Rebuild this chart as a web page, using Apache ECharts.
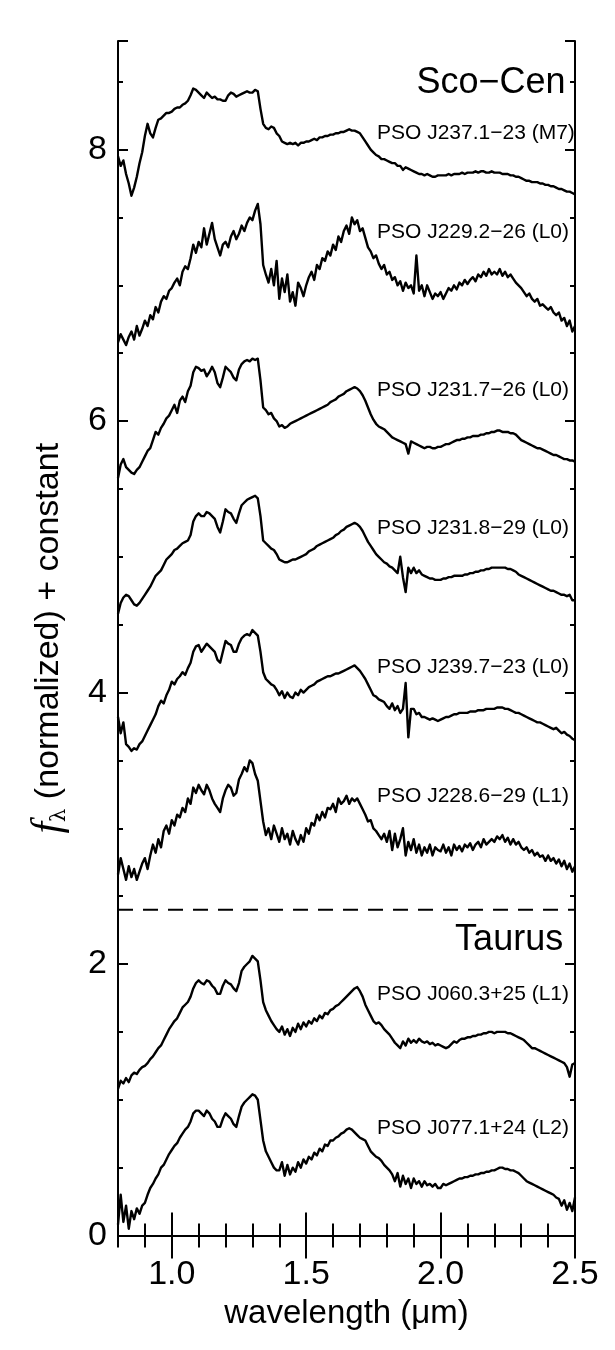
<!DOCTYPE html>
<html><head><meta charset="utf-8">
<script src="https://cdn.jsdelivr.net/npm/echarts@6/dist/echarts.min.js"></script>
<style>html,body{margin:0;padding:0;background:#fff}#c{width:615px;height:1350px}</style>
</head><body><div id="c"></div>
<script>
// wavelength grid (micron)
const wavelength = [
0.80,0.81,0.82,0.83,0.84,0.85,0.86,0.87,0.88,0.89,
0.90,0.91,0.92,0.93,0.94,0.95,0.96,0.97,0.98,0.99,
1.00,1.01,1.02,1.03,1.04,1.05,1.06,1.07,1.08,1.09,
1.10,1.11,1.12,1.13,1.14,1.15,1.16,1.17,1.18,1.19,
1.20,1.21,1.22,1.23,1.24,1.25,1.26,1.27,1.28,1.29,
1.30,1.31,1.32,1.33,1.34,1.35,1.36,1.37,1.38,1.39,
1.40,1.41,1.42,1.43,1.44,1.45,1.46,1.47,1.48,1.49,
1.50,1.51,1.52,1.53,1.54,1.55,1.56,1.57,1.58,1.59,
1.60,1.61,1.62,1.63,1.64,1.65,1.66,1.67,1.68,1.69,
1.70,1.71,1.72,1.73,1.74,1.75,1.76,1.77,1.78,1.79,
1.80,1.81,1.82,1.83,1.84,1.85,1.86,1.87,1.88,1.89,
1.90,1.91,1.92,1.93,1.94,1.95,1.96,1.97,1.98,1.99,
2.00,2.01,2.02,2.03,2.04,2.05,2.06,2.07,2.08,2.09,
2.10,2.11,2.12,2.13,2.14,2.15,2.16,2.17,2.18,2.19,
2.20,2.21,2.22,2.23,2.24,2.25,2.26,2.27,2.28,2.29,
2.30,2.31,2.32,2.33,2.34,2.35,2.36,2.37,2.38,2.39,
2.40,2.41,2.42,2.43,2.44,2.45,2.46,2.47,2.48,2.49,
2.50];

// f_lambda (normalized) + constant
const fluxJ237 = [
7.95,7.88,7.92,7.82,7.75,7.66,7.72,7.80,7.90,7.98,
8.10,8.19,8.12,8.09,8.16,8.22,8.23,8.25,8.27,8.27,
8.28,8.30,8.31,8.31,8.33,8.34,8.36,8.40,8.45,8.44,
8.42,8.40,8.38,8.42,8.40,8.38,8.39,8.37,8.37,8.36,
8.36,8.40,8.42,8.41,8.39,8.40,8.41,8.42,8.43,8.42,
8.42,8.44,8.43,8.30,8.19,8.16,8.15,8.17,8.16,8.12,
8.10,8.06,8.05,8.04,8.05,8.04,8.05,8.03,8.05,8.05,
8.06,8.06,8.07,8.08,8.07,8.09,8.09,8.10,8.10,8.11,
8.11,8.12,8.12,8.13,8.13,8.14,8.15,8.14,8.14,8.13,
8.12,8.09,8.06,8.03,8.00,7.98,7.96,7.95,7.93,7.93,
7.92,7.91,7.90,7.90,7.88,7.88,7.85,7.87,7.86,7.85,
7.84,7.83,7.82,7.82,7.81,7.82,7.81,7.80,7.80,7.81,
7.81,7.81,7.81,7.82,7.81,7.82,7.82,7.82,7.83,7.82,
7.83,7.83,7.83,7.84,7.83,7.84,7.84,7.83,7.83,7.84,
7.83,7.83,7.83,7.82,7.82,7.82,7.81,7.81,7.80,7.80,
7.79,7.78,7.77,7.77,7.76,7.76,7.76,7.75,7.75,7.74,
7.74,7.73,7.73,7.72,7.71,7.71,7.70,7.69,7.69,7.68,
7.67];
const fluxJ229 = [
6.58,6.64,6.60,6.56,6.62,6.66,6.60,6.70,6.63,6.68,
6.74,6.70,6.78,6.75,6.84,6.80,6.88,6.92,6.90,6.96,
6.98,7.02,7.05,7.00,7.10,7.14,7.12,7.20,7.30,7.24,
7.32,7.28,7.42,7.30,7.38,7.46,7.34,7.28,7.22,7.30,
7.32,7.28,7.36,7.40,7.34,7.38,7.44,7.40,7.46,7.50,
7.48,7.55,7.60,7.45,7.15,7.08,7.02,7.12,7.00,7.18,
6.90,7.05,6.95,7.08,6.88,6.95,6.85,7.02,6.98,6.92,
7.00,7.06,7.10,7.04,7.15,7.12,7.20,7.18,7.25,7.22,
7.30,7.26,7.36,7.32,7.40,7.44,7.38,7.50,7.45,7.48,
7.40,7.42,7.35,7.28,7.25,7.20,7.22,7.16,7.12,7.15,
7.08,7.10,7.04,7.06,7.00,7.03,6.96,7.02,6.98,7.00,
6.94,7.22,6.96,7.00,6.92,7.00,6.95,6.90,6.94,6.92,
6.95,6.90,6.94,6.98,6.96,7.00,6.97,7.02,7.00,7.04,
7.01,7.04,7.06,7.03,7.08,7.06,7.10,7.07,7.12,7.08,
7.10,7.08,7.12,7.07,7.10,7.06,7.08,7.05,7.02,7.00,
6.98,6.95,6.92,6.94,6.90,6.88,6.90,6.85,6.86,6.84,
6.82,6.84,6.80,6.78,6.80,6.74,6.76,6.70,6.74,6.66,
6.70];
const fluxJ231a = [
5.58,5.68,5.72,5.66,5.64,5.62,5.61,5.64,5.66,5.70,
5.74,5.78,5.80,5.86,5.92,5.90,5.95,5.98,6.02,6.04,
6.08,6.12,6.06,6.15,6.18,6.14,6.22,6.26,6.36,6.40,
6.39,6.37,6.38,6.33,6.36,6.40,6.36,6.28,6.25,6.32,
6.40,6.38,6.36,6.32,6.30,6.38,6.42,6.44,6.45,6.44,
6.46,6.45,6.46,6.30,6.10,6.08,6.05,6.06,6.02,6.00,
5.96,5.97,5.95,5.96,5.98,5.99,6.00,6.01,6.02,6.03,
6.04,6.05,6.06,6.07,6.08,6.09,6.10,6.11,6.12,6.14,
6.15,6.16,6.18,6.19,6.20,6.22,6.23,6.24,6.25,6.24,
6.22,6.19,6.15,6.10,6.05,6.01,5.98,5.96,5.95,5.94,
5.92,5.90,5.88,5.87,5.86,5.85,5.84,5.83,5.76,5.85,
5.84,5.83,5.82,5.81,5.80,5.81,5.81,5.80,5.80,5.81,
5.81,5.82,5.83,5.83,5.84,5.85,5.86,5.86,5.87,5.87,
5.88,5.88,5.89,5.89,5.89,5.90,5.90,5.91,5.91,5.92,
5.92,5.93,5.93,5.92,5.92,5.92,5.91,5.91,5.90,5.88,
5.86,5.85,5.84,5.83,5.82,5.81,5.80,5.80,5.79,5.78,
5.77,5.76,5.75,5.75,5.74,5.73,5.72,5.72,5.71,5.71,
5.70];
const fluxJ231b = [
4.58,4.66,4.70,4.72,4.71,4.68,4.65,4.64,4.66,4.69,
4.72,4.75,4.78,4.82,4.86,4.88,4.90,4.94,4.98,5.00,
5.02,5.05,5.06,5.08,5.10,5.11,5.12,5.16,5.26,5.30,
5.32,5.30,5.30,5.33,5.32,5.30,5.28,5.22,5.18,5.26,
5.35,5.33,5.32,5.28,5.25,5.32,5.38,5.40,5.42,5.43,
5.44,5.45,5.43,5.30,5.12,5.10,5.08,5.06,5.05,5.02,
4.98,4.97,4.96,4.96,4.97,4.98,4.98,4.99,5.00,5.01,
5.02,5.04,5.05,5.06,5.08,5.09,5.10,5.11,5.12,5.13,
5.14,5.16,5.17,5.19,5.20,5.22,5.23,5.24,5.25,5.24,
5.22,5.19,5.15,5.11,5.08,5.05,5.02,5.00,4.98,4.96,
4.95,4.93,4.92,4.90,4.88,5.00,4.85,4.74,4.92,4.88,
4.92,4.88,4.90,4.87,4.86,4.85,4.84,4.84,4.83,4.83,
4.83,4.84,4.84,4.85,4.85,4.86,4.86,4.86,4.86,4.87,
4.87,4.88,4.88,4.89,4.89,4.90,4.90,4.91,4.91,4.92,
4.92,4.92,4.92,4.92,4.92,4.91,4.91,4.90,4.89,4.87,
4.86,4.85,4.84,4.83,4.82,4.81,4.80,4.79,4.78,4.77,
4.76,4.75,4.75,4.74,4.73,4.72,4.72,4.71,4.72,4.68,
4.68];
const fluxJ239 = [
3.82,3.70,3.78,3.62,3.60,3.57,3.59,3.58,3.62,3.64,
3.68,3.72,3.76,3.80,3.84,3.90,3.94,3.92,3.98,4.02,
4.08,4.06,4.10,4.12,4.15,4.13,4.18,4.22,4.30,4.34,
4.35,4.30,4.33,4.36,4.34,4.32,4.30,4.24,4.22,4.30,
4.38,4.36,4.35,4.30,4.30,4.36,4.40,4.42,4.43,4.42,
4.46,4.44,4.42,4.30,4.15,4.10,4.08,4.06,4.05,4.02,
3.98,4.01,3.96,4.00,3.97,3.96,4.00,3.98,4.02,4.00,
4.02,4.04,4.05,4.06,4.08,4.09,4.10,4.11,4.12,4.12,
4.13,4.14,4.14,4.15,4.16,4.17,4.18,4.19,4.20,4.18,
4.16,4.13,4.10,4.06,4.02,3.98,3.97,3.95,3.94,3.93,
3.90,3.88,3.92,3.87,3.90,3.85,3.88,4.07,3.67,3.88,
3.88,3.84,3.85,3.82,3.82,3.81,3.80,3.81,3.80,3.79,
3.80,3.81,3.82,3.82,3.83,3.84,3.84,3.85,3.85,3.85,
3.85,3.86,3.86,3.86,3.87,3.87,3.87,3.88,3.88,3.88,
3.88,3.89,3.89,3.89,3.88,3.88,3.87,3.86,3.85,3.85,
3.84,3.83,3.82,3.81,3.80,3.79,3.78,3.78,3.77,3.76,
3.75,3.74,3.73,3.74,3.72,3.70,3.71,3.69,3.68,3.66,
3.65];
const fluxJ228 = [
2.66,2.78,2.70,2.62,2.72,2.64,2.70,2.62,2.68,2.74,
2.78,2.70,2.80,2.88,2.82,2.92,2.86,2.98,3.02,2.96,
3.06,3.02,3.10,3.08,3.15,3.12,3.22,3.18,3.30,3.26,
3.32,3.28,3.25,3.32,3.28,3.22,3.18,3.15,3.12,3.22,
3.28,3.32,3.30,3.24,3.26,3.36,3.40,3.45,3.42,3.50,
3.48,3.40,3.35,3.20,3.05,2.95,3.00,2.92,3.02,2.96,
2.90,3.00,2.92,2.96,2.88,2.98,2.92,2.88,2.95,2.90,
3.00,2.96,3.04,3.02,3.10,3.06,3.12,3.08,3.15,3.14,
3.18,3.12,3.22,3.18,3.20,3.24,3.18,3.22,3.20,3.22,
3.18,3.14,3.10,3.05,3.06,3.00,2.98,2.95,2.92,2.96,
2.90,2.98,2.84,2.96,2.86,2.92,3.00,2.80,2.90,2.84,
2.92,2.82,2.88,2.80,2.86,2.82,2.88,2.80,2.86,2.84,
2.83,2.88,2.82,2.86,2.80,2.88,2.84,2.87,2.83,2.88,
2.86,2.89,2.84,2.88,2.90,2.86,2.92,2.88,2.90,2.92,
2.90,2.94,2.92,2.95,2.90,2.93,2.88,2.92,2.88,2.90,
2.86,2.84,2.86,2.82,2.84,2.80,2.82,2.79,2.80,2.76,
2.80,2.76,2.78,2.74,2.77,2.72,2.76,2.70,2.74,2.68,
2.72];
const fluxJ060 = [
1.08,1.14,1.12,1.16,1.13,1.18,1.20,1.19,1.22,1.24,
1.25,1.27,1.30,1.32,1.35,1.38,1.40,1.44,1.48,1.52,
1.55,1.58,1.60,1.64,1.68,1.70,1.72,1.76,1.82,1.86,
1.88,1.86,1.85,1.88,1.87,1.84,1.82,1.78,1.78,1.84,
1.88,1.86,1.85,1.82,1.80,1.86,1.95,1.98,2.00,2.02,
2.06,2.04,2.02,1.88,1.72,1.66,1.62,1.58,1.55,1.52,
1.50,1.54,1.48,1.52,1.47,1.53,1.50,1.56,1.52,1.57,
1.54,1.58,1.56,1.60,1.58,1.62,1.60,1.64,1.63,1.66,
1.67,1.69,1.70,1.72,1.74,1.76,1.78,1.80,1.82,1.83,
1.80,1.76,1.70,1.66,1.62,1.58,1.56,1.57,1.55,1.52,
1.50,1.48,1.45,1.42,1.40,1.38,1.43,1.40,1.45,1.42,
1.44,1.42,1.45,1.43,1.42,1.43,1.41,1.42,1.40,1.41,
1.40,1.39,1.38,1.39,1.41,1.43,1.42,1.44,1.45,1.45,
1.46,1.46,1.47,1.47,1.48,1.48,1.49,1.49,1.50,1.50,
1.49,1.50,1.50,1.50,1.50,1.49,1.49,1.48,1.47,1.46,
1.45,1.44,1.42,1.40,1.38,1.38,1.37,1.36,1.35,1.34,
1.33,1.32,1.31,1.30,1.29,1.28,1.27,1.24,1.17,1.26,
1.27];
const fluxJ077 = [
0.08,0.30,0.10,0.22,0.05,0.18,0.12,0.20,0.16,0.22,
0.24,0.30,0.35,0.38,0.42,0.45,0.50,0.52,0.56,0.60,
0.63,0.66,0.68,0.72,0.75,0.78,0.80,0.84,0.90,0.92,
0.92,0.90,0.88,0.92,0.90,0.86,0.84,0.80,0.80,0.86,
0.90,0.88,0.86,0.82,0.80,0.88,0.95,0.98,1.00,1.02,
1.04,1.03,1.00,0.85,0.70,0.62,0.58,0.54,0.50,0.48,
0.48,0.54,0.44,0.52,0.45,0.50,0.47,0.54,0.50,0.56,
0.53,0.58,0.56,0.61,0.59,0.64,0.62,0.67,0.66,0.70,
0.70,0.72,0.73,0.75,0.76,0.78,0.79,0.78,0.76,0.74,
0.72,0.71,0.70,0.66,0.62,0.60,0.58,0.57,0.55,0.52,
0.50,0.48,0.45,0.40,0.46,0.36,0.44,0.38,0.42,0.35,
0.42,0.38,0.40,0.36,0.40,0.37,0.38,0.36,0.38,0.35,
0.35,0.38,0.37,0.38,0.39,0.40,0.41,0.42,0.42,0.43,
0.43,0.44,0.44,0.45,0.45,0.46,0.46,0.47,0.47,0.48,
0.48,0.49,0.50,0.50,0.49,0.49,0.48,0.48,0.47,0.46,
0.44,0.42,0.40,0.39,0.38,0.37,0.36,0.35,0.34,0.33,
0.32,0.31,0.30,0.28,0.27,0.22,0.26,0.19,0.24,0.18,
0.28];

const spectra = [fluxJ237, fluxJ229, fluxJ231a, fluxJ231b, fluxJ239, fluxJ228, fluxJ060, fluxJ077];
const objectNames = ['PSO J237.1\u221223 (M7)','PSO J229.2\u221226 (L0)','PSO J231.7\u221226 (L0)','PSO J231.8\u221229 (L0)',
  'PSO J239.7\u221223 (L0)','PSO J228.6\u221229 (L1)','PSO J060.3+25 (L1)','PSO J077.1+24 (L2)'];
const nameAnchorY = [8.07, 7.34, 6.17, 5.16, 4.13, 3.18, 1.72, 0.74];
const nameAnchorX = 1.7635;
const groupNames = ['Sco\u2212Cen', 'Taurus'];
const groupAnchorY = [8.40, 2.08];
const groupAnchorX = [2.465, 2.456];
const dividerY = 2.4;
const xRange = [0.8, 2.5];
const yRange = [0, 8.8];
const xMajorTicks = [1.0, 1.5, 2.0, 2.5];
const yMajorTicks = [0, 2, 4, 6, 8];

const FONT = '"Liberation Sans", Arial, Helvetica, sans-serif';
const chart = echarts.init(document.getElementById('c'));

function xAx(pos, major, labels) {
  return {
    type: 'value', position: pos, min: xRange[0], max: xRange[1], interval: 0.1,
    axisLine: { show: !major, lineStyle: { color: '#000', width: 2 } },
    splitLine: { show: false },
    axisTick: major
      ? { show: true, inside: true, length: 23, lineStyle: { color: '#000', width: 2 }, customValues: xMajorTicks }
      : { show: true, inside: true, length: 12, lineStyle: { color: '#000', width: 2 } },
    axisLabel: labels ? {
      show: true, margin: 22, color: '#000', fontSize: 34, fontFamily: FONT,
      formatter: v => { const r = Math.round(v * 10) / 10; return (Math.abs(r * 2 - Math.round(r * 2)) < 1e-6 && r >= 1) ? r.toFixed(1) : ''; }
    } : { show: false },
    name: labels ? 'wavelength (\u03bcm)' : '', nameLocation: 'middle', nameGap: 62,
    nameTextStyle: { color: '#000', fontSize: 33, fontFamily: FONT }
  };
}
function yAx(pos, major, labels) {
  return {
    type: 'value', position: pos, min: yRange[0], max: yRange[1], interval: major ? 2 : 0.5,
    axisLine: { show: !major, lineStyle: { color: '#000', width: 2 } },
    splitLine: { show: false },
    axisTick: { show: true, inside: true, length: major ? 10 : 5, lineStyle: { color: '#000', width: 2 } },
    axisLabel: labels ? {
      show: true, margin: 11, color: '#000', fontSize: 34, fontFamily: FONT,
      formatter: v => (yMajorTicks.indexOf(Math.round(v * 100) / 100) >= 0 ? String(Math.round(v)) : '')
    } : { show: false },
    name: labels ? '{f|f}{l|\u03bb} (normalized) + constant' : '', nameLocation: 'middle', nameGap: 48, nameRotate: 90,
    nameTextStyle: { color: '#000', fontSize: 34, fontFamily: FONT,
      rich: {
        f: { fontFamily: '"Liberation Serif", "DejaVu Serif", serif', fontStyle: 'italic', fontSize: 42, color: '#000' },
        l: { fontFamily: '"DejaVu Serif", serif', fontSize: 21, color: '#000', verticalAlign: 'bottom', padding: [15, 0, 0, 0] }
      } }
  };
}

const series = spectra.map(vals => ({
  type: 'line', xAxisIndex: 0, yAxisIndex: 0,
  data: wavelength.map((w, i) => [w, vals[i]]),
  showSymbol: false, symbol: 'none', silent: true, clip: true,
  lineStyle: { color: '#000', width: 2.4, join: 'round' }
}));
series.push({
  type: 'line', xAxisIndex: 0, yAxisIndex: 0, data: [[xRange[0], dividerY], [xRange[1], dividerY]],
  showSymbol: false, symbol: 'none', silent: true,
  lineStyle: { color: '#000', width: 2, type: [15, 10] }
});

chart.setOption({
  animation: false,
  backgroundColor: '#fff',
  grid: { left: 118, right: 40, top: 41, bottom: 114.5, show: false },
  xAxis: [xAx('bottom', false, true), xAx('bottom', true, false), xAx('top', false, false), xAx('top', true, false)],
  yAxis: [yAx('left', false, true), yAx('left', true, false), yAx('right', false, false), yAx('right', true, false)],
  series: series
});

const graphics = [];
objectNames.forEach((name, i) => {
  const p = chart.convertToPixel({ gridIndex: 0 }, [nameAnchorX, nameAnchorY[i]]);
  graphics.push({ type: 'text', x: p[0], y: p[1] - 0.35 * 21, silent: true,
    style: { text: name, font: '21px ' + FONT, fill: '#000', align: 'left', verticalAlign: 'middle', textAlign: 'left', textVerticalAlign: 'middle' } });
});
groupNames.forEach((name, i) => {
  const p = chart.convertToPixel({ gridIndex: 0 }, [groupAnchorX[i], groupAnchorY[i]]);
  graphics.push({ type: 'text', x: p[0], y: p[1] - 0.35 * 36, silent: true,
    style: { text: name, font: '36px ' + FONT, fill: '#000', align: 'right', verticalAlign: 'middle', textAlign: 'right', textVerticalAlign: 'middle' } });
});
chart.setOption({ graphic: graphics });
</script>
</body></html>
